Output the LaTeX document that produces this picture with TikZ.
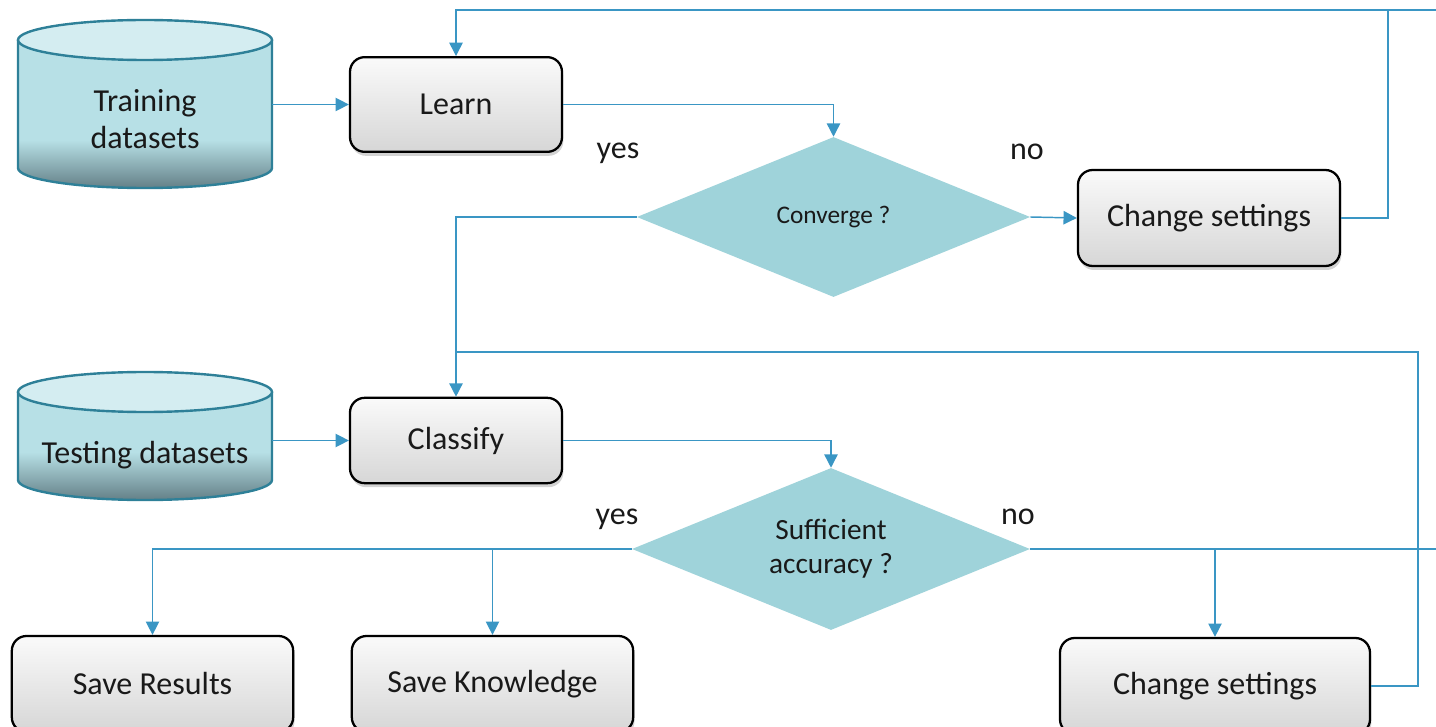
\documentclass[tikz,border=0pt]{standalone}
\usepackage{fontspec}
\setmainfont{Carlito}
\usetikzlibrary{shapes.geometric,arrows.meta,shadows}

\definecolor{linkblue}{RGB}{58,150,196}
\definecolor{diamfill}{RGB}{159,211,218}
\definecolor{cylfill}{RGB}{183,224,230}
\definecolor{cyltopfill}{RGB}{212,237,241}
\definecolor{cylline}{RGB}{46,128,152}
\definecolor{cylshade}{RGB}{100,128,135}
\definecolor{txtdark}{RGB}{25,25,25}

\tikzset{
box/.style={draw=black, line width=1.7pt, rounded corners=11pt, top color=gray!4, bottom color=gray!32,
  drop shadow={opacity=0.35, shadow xshift=1pt, shadow yshift=-3pt},
  text=txtdark, font=\fontsize{24}{29}\selectfont, inner sep=0pt},
decision/.style={diamond, fill=diamfill, inner sep=0pt, aspect=2.45, text=txtdark, align=center},
dbtext/.style={inner sep=0pt, align=center, text=txtdark, font=\fontsize{24}{28}\selectfont},
cylbody/.style={fill=cylfill},
cylfoot/.style={top color=cylfill, bottom color=cylshade},
cyledge/.style={draw=cylline, line width=1.8pt},
cyltop/.style={draw=cylline, line width=1.8pt, fill=cyltopfill},
flow/.style={draw=linkblue, line width=1.1pt, -{Triangle[length=10pt,width=10pt]}},
wire/.style={draw=linkblue, line width=1.1pt},
lbl/.style={inner sep=0pt, text=txtdark, font=\fontsize{24}{29}\selectfont}
}

\begin{document}
\begin{tikzpicture}[x=0.75pt,y=0.75pt,yscale=-1,xscale=1]
\useasboundingbox (0,0) rectangle (1436,727);
\clip (0,0) rectangle (1436,727);

%Shape: Can [training]
\path[cylbody] (18,40) -- (18,168) arc[start angle=180, end angle=0, x radius=127, y radius=20] -- (272,40) -- cycle;
\path[cylfoot] (18,140) -- (18,168) arc[start angle=180, end angle=0, x radius=127, y radius=20] -- (272,140) -- cycle;
\draw[cyledge] (18,40) -- (18,168) arc[start angle=180, end angle=0, x radius=127, y radius=20] -- (272,40);
\draw[cyltop] (145,40) ellipse [x radius=127, y radius=20];
%Shape: Can [testing]
\path[cylbody] (18,392) -- (18,480) arc[start angle=180, end angle=0, x radius=127, y radius=20] -- (272,392) -- cycle;
\path[cylfoot] (18,452) -- (18,480) arc[start angle=180, end angle=0, x radius=127, y radius=20] -- (272,452) -- cycle;
\draw[cyledge] (18,392) -- (18,480) arc[start angle=180, end angle=0, x radius=127, y radius=20] -- (272,392);
\draw[cyltop] (145,392) ellipse [x radius=127, y radius=20];

% Text Node
\node[dbtext, minimum width=190.5pt] (train) at (145,119) {Training\\datasets};
\node[dbtext, minimum width=190.5pt] (test) at (145,455) {Testing datasets};

%Shape: Rounded rect
\node[box, minimum width=159pt, minimum height=71pt, text depth=0pt] (learn) at (456,104.5) {Learn};
\node[box, minimum width=159pt, minimum height=64pt] (classify) at (456,440.5) {Classify};
\node[box, minimum width=196.5pt, minimum height=72pt] (chg1) at (1209,218) {Change settings};
\node[box, minimum width=211pt, minimum height=72pt] (saveres) at (152.5,684) {Save Results};
\node[box, minimum width=211pt, minimum height=72pt] (saveknow) at (492.5,684) {Save Knowledge};
\node[box, minimum width=232.5pt, minimum height=72pt] (chg2) at (1215,686) {Change settings};

%Shape: Diamond
\node[decision, minimum width=295pt, minimum height=120pt, font=\fontsize{19}{23}\selectfont] (conv) at (833.5,217) {Converge ?};
\node[decision, minimum width=298.5pt, minimum height=121.5pt, font=\fontsize{22}{25.5}\selectfont] (acc) at (831,549) {Sufficient\\accuracy ?};

% Text Node
\node[lbl] (yes1) at (618,153) {yes};
\node[lbl] (no1) at (1027,152) {no};
\node[lbl] (yes2) at (617,519) {yes};
\node[lbl] (no2) at (1018,517) {no};

\coordinate (topedge) at (1436,10);
\coordinate (loop1) at (1388,10);
\coordinate (loop2) at (1418,352);
\coordinate (rightedge) at (1436,549);

%Straight Lines
\draw[flow] (learn.west -| train.east) -- (learn.west);
\draw[flow] (classify.west -| test.east) -- (classify.west);
\draw[flow] (learn.east) -| (conv.north);
\draw[flow] (conv.east) -- (chg1.west);
\draw[wire] (topedge) -- (loop1);
\draw[flow] (chg1.east) -| (loop1) -| (learn.north);
\draw[flow] (conv.west) -| (classify.north);
\draw[wire] (chg2.east) -| (loop2) -- (classify.north |- loop2);
\draw[flow] (classify.east) -| (acc.north);
\draw[flow] (acc.west) -| (saveres.north);
\draw[flow] (saveknow.north |- acc.west) -- (saveknow.north);
\draw[wire] (acc.east) -- (rightedge);
\draw[flow] (chg2.north |- acc.east) -- (chg2.north);

\end{tikzpicture}
\end{document}
